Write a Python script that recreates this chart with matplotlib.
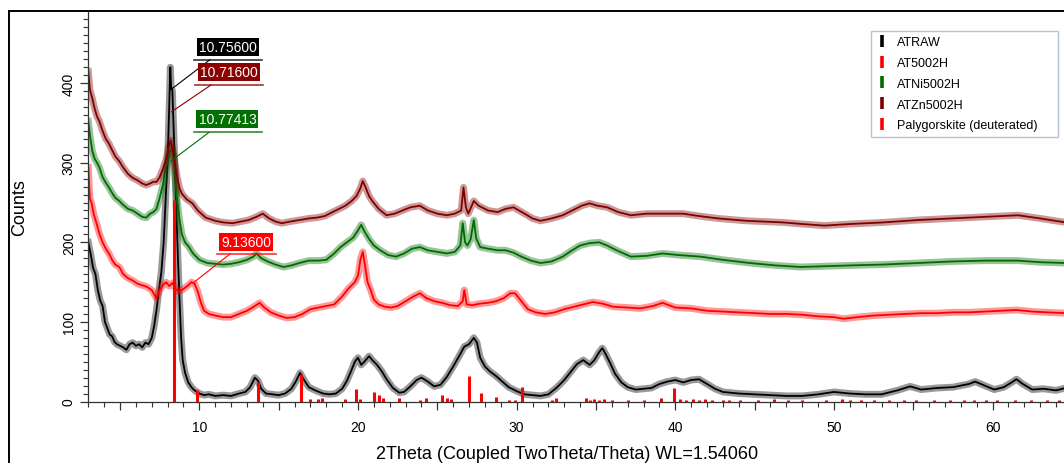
import numpy as np
import matplotlib.pyplot as plt
from matplotlib.lines import Line2D
from matplotlib.ticker import MultipleLocator, FuncFormatter

plt.rcParams['font.family'] = ['Liberation Sans', 'DejaVu Sans']

WL = 1.54060  # Cu K-alpha, Angstrom

# ATRAW
raw_tt = [3.0, 3.15, 3.3, 3.45, 3.6, 3.75, 3.9, 4.05, 4.2, 4.35, 4.5, 4.65, 4.8, 5.0, 5.2,
          5.4, 5.6, 5.8, 6.0, 6.2, 6.4, 6.6, 6.8, 7.0, 7.15, 7.3, 7.45, 7.6, 7.75, 7.9,
          8.0, 8.1, 8.17, 8.22, 8.3, 8.38, 8.45, 8.55, 8.65, 8.75, 8.85, 8.95, 9.1, 9.3,
          9.5, 9.7, 10.0, 10.3, 10.6, 11.0, 11.5, 12.0, 12.5, 12.9, 13.2, 13.5, 13.7, 13.9,
          14.2, 14.6, 15.0, 15.4, 15.8, 16.1, 16.35, 16.6, 16.9, 17.3, 17.8, 18.2, 18.6,
          19.0, 19.3, 19.6, 19.8, 20.0, 20.2, 20.4, 20.7, 20.9, 21.2, 21.5, 21.8, 22.2,
          22.6, 22.9, 23.3, 23.7, 24.0, 24.4, 24.8, 25.2, 25.6, 26.0, 26.4, 26.7, 27.0,
          27.3, 27.5, 27.7, 28.0, 28.3, 28.7, 29.1, 29.5, 30.0, 30.5, 31.0, 31.5, 32.0,
          32.5, 33.0, 33.4, 33.8, 34.2, 34.6, 34.9, 35.2, 35.4, 35.6, 35.9, 36.2, 36.6,
          37.0, 37.5, 38.0, 38.5, 39.0, 39.5, 40.0, 40.5, 41.0, 41.5, 42.0, 42.5, 43.0,
          44.0, 45.0, 46.0, 47.0, 48.0, 49.0, 50.0, 51.0, 52.0, 53.0, 54.0, 54.8, 55.5,
          56.5, 57.5, 58.5, 58.9, 59.5, 60.1, 60.7, 61.2, 61.5, 61.9, 62.5, 63.2, 64.0, 64.6]
raw_counts = [200, 185, 168, 160, 140, 127, 120, 100, 92, 84, 82, 75, 72, 70, 68,
              65, 72, 74, 70, 72, 68, 74, 72, 80, 95, 115, 140, 162, 200, 265,
              300, 370, 420, 395, 390, 340, 300, 240, 180, 128, 80, 52, 36, 24,
              18, 14, 10, 8, 9, 7, 8, 7, 10, 12, 18, 30, 26, 16,
              10, 9, 8, 10, 16, 26, 36, 27, 18, 14, 10, 9, 10,
              16, 26, 40, 50, 55, 46, 50, 57, 52, 46, 38, 28, 17,
              11, 12, 19, 27, 30, 25, 19, 21, 31, 44, 58, 69, 72,
              80, 74, 55, 44, 38, 32, 25, 18, 13, 9, 8, 7, 9,
              17, 27, 37, 47, 52, 46, 52, 62, 67, 60, 48, 35, 24,
              18, 15, 16, 17, 22, 25, 27, 24, 27, 28, 22, 16, 12,
              10, 9, 8, 7, 7, 9, 12, 10, 9, 9, 14, 19, 15,
              17, 18, 22, 25, 20, 15, 18, 24, 28, 22, 15, 16, 14, 17]

# AT5002H
at_tt = [3.0, 3.1, 3.2, 3.35, 3.5, 3.7, 3.9, 4.1, 4.3, 4.5, 4.7, 4.95, 5.2, 5.5, 5.8, 6.1,
         6.4, 6.7, 7.0, 7.28, 7.5, 7.7, 7.9, 8.1, 8.3, 8.5, 8.7, 8.9, 9.1, 9.3, 9.5, 9.7,
         9.9, 10.1, 10.3, 10.6, 11.0, 11.5, 12.0, 12.5, 13.0, 13.5, 13.8, 14.1, 14.5,
         15.0, 15.5, 16.0, 16.5, 17.0, 17.5, 18.0, 18.5, 19.0, 19.4, 19.8, 20.0, 20.15,
         20.3, 20.45, 20.6, 20.8, 21.0, 21.3, 21.7, 22.1, 22.5, 23.0, 23.5, 23.9, 24.3,
         24.8, 25.3, 25.8, 26.3, 26.6, 26.7, 26.85, 27.2, 27.7, 28.2, 28.7, 29.2, 29.6,
         29.9, 30.3, 30.7, 31.2, 31.8, 32.4, 33.0, 33.6, 34.2, 34.8, 35.4, 36.1, 37.0,
         37.8, 38.6, 39.2, 40.0, 41.0, 42.0, 43.0, 44.0, 45.0, 46.0, 47.0, 48.0, 49.0,
         50.0, 50.6, 51.5, 52.5, 53.5, 54.5, 55.5, 56.5, 57.5, 58.5, 59.5, 60.5, 61.5,
         62.5, 63.5, 64.6]
at_counts = [294, 255, 250, 235, 225, 211, 200, 192, 186, 178, 172, 169, 160, 155, 152, 148,
             146, 144, 140, 130, 140, 146, 150, 145, 149, 142, 138, 140, 143, 146, 150, 148,
             138, 124, 114, 110, 108, 106, 106, 110, 114, 120, 124, 118, 112,
             108, 105, 106, 110, 116, 118, 120, 122, 132, 142, 150, 158, 178,
             188, 170, 150, 140, 128, 122, 119, 118, 120, 126, 132, 136, 130,
             126, 124, 121, 120, 126, 140, 122, 121, 123, 124, 126, 130, 136,
             136, 126, 116, 112, 110, 112, 116, 119, 122, 125, 123, 119, 118,
             117, 120, 124, 118, 117, 114, 113, 112, 111, 110, 110, 109, 107,
             106, 104, 106, 108, 109, 110, 111, 111, 112, 112, 113, 114, 115,
             113, 112, 111]

# ATNi5002H
ni_tt = [3.0, 3.1, 3.25, 3.4, 3.55, 3.7, 3.9, 4.1, 4.3, 4.5, 4.7, 4.95, 5.2, 5.5, 5.8, 6.1,
         6.4, 6.65, 6.9, 7.1, 7.3, 7.5, 7.7, 7.85, 8.0, 8.15, 8.3, 8.4, 8.5, 8.6, 8.75,
         8.9, 9.1, 9.35, 9.6, 10.0, 10.5, 11.0, 11.5, 12.0, 12.5, 13.0, 13.4, 13.6, 13.9,
         14.3, 14.8, 15.3, 15.8, 16.3, 16.9, 17.5, 18.0, 18.5, 18.9, 19.3, 19.7, 20.0,
         20.2, 20.4, 20.7, 21.0, 21.4, 21.9, 22.4, 22.9, 23.4, 23.9, 24.4, 25.0, 25.6,
         26.1, 26.45, 26.6, 26.75, 26.9, 27.1, 27.3, 27.45, 27.7, 28.2, 28.8, 29.3, 29.8,
         30.3, 30.9, 31.5, 32.2, 32.9, 33.5, 34.0, 34.6, 35.2, 35.7, 36.3, 37.2, 38.2,
         39.2, 40.2, 41.6, 43.0, 44.7, 46.3, 47.9, 49.5, 51.1, 53.0, 55.3, 57.5, 59.5,
         61.6, 63.0, 64.6]
ni_counts = [352, 335, 315, 305, 300, 294, 282, 275, 269, 262, 256, 252, 247, 242, 240, 236,
             232, 231, 236, 238, 242, 256, 272, 290, 302, 315, 318, 300, 275, 252, 228,
             210, 200, 194, 186, 178, 174, 173, 172, 173, 175, 178, 182, 186, 180,
             176, 172, 169, 171, 174, 177, 177, 178, 186, 194, 200, 206, 215,
             222, 214, 204, 196, 190, 184, 182, 186, 192, 194, 190, 188, 186,
             188, 196, 224, 200, 196, 204, 228, 205, 194, 192, 190, 190, 187,
             182, 177, 174, 176, 182, 190, 196, 199, 200, 196, 190, 182, 183,
             186, 184, 182, 178, 174, 171, 169, 170, 171, 172, 174, 176, 177,
             177, 175, 174]

# ATZn5002H
zn_tt = [3.0, 3.1, 3.25, 3.4, 3.55, 3.7, 3.9, 4.1, 4.3, 4.5, 4.7, 4.95, 5.2, 5.5, 5.8, 6.1,
         6.4, 6.65, 6.9, 7.1, 7.3, 7.5, 7.7, 7.9, 8.05, 8.2, 8.3, 8.45, 8.6, 8.75, 8.9,
         9.2, 9.56, 9.9, 10.4, 11.0, 11.5, 12.1, 12.6, 13.1, 13.6, 14.0, 14.4, 14.8,
         15.2, 15.7, 16.3, 16.9, 17.4, 17.9, 18.4, 18.8, 19.2, 19.6, 19.9, 20.15, 20.3,
         20.5, 20.7, 20.9, 21.3, 21.8, 22.3, 22.8, 23.3, 23.9, 24.4, 25.0, 25.6, 26.1,
         26.5, 26.65, 26.8, 26.95, 27.3, 27.6, 28.2, 28.8, 29.3, 29.8, 30.5, 31.0, 31.5,
         32.2, 32.9, 33.5, 34.1, 34.6, 35.1, 35.7, 36.4, 37.2, 38.2, 39.2, 40.5, 41.5,
         42.7, 44.5, 46.8, 48.0, 49.4, 51.0, 53.1, 55.3, 57.4, 59.5, 61.6, 63.0, 64.6]
zn_counts = [415, 392, 381, 368, 358, 352, 340, 330, 324, 316, 308, 302, 294, 286, 281, 278,
             274, 272, 274, 276, 276, 282, 292, 304, 318, 328, 318, 300, 282, 268, 261,
             254, 249, 240, 231, 227, 225, 224, 226, 228, 232, 236, 230, 226,
             224, 226, 228, 230, 231, 233, 238, 242, 246, 252, 258, 268, 277,
             268, 258, 252, 242, 234, 236, 240, 244, 246, 240, 236, 234, 236,
             240, 269, 244, 236, 252, 246, 240, 238, 242, 244, 236, 230, 227,
             230, 234, 240, 246, 249, 246, 244, 238, 234, 236, 236, 236, 233,
             230, 227, 225, 223, 221, 223, 225, 228, 230, 232, 234, 230, 225]

# Palygorskite (deuterated) reference lines
pal_tt = [8.42, 9.87, 13.68, 16.38, 16.96, 17.45, 17.7, 19.16, 19.85, 20.1, 21.0, 21.3,
          21.6, 22.6, 23.9, 24.3, 25.3, 25.6, 25.85, 27.0, 27.75, 28.7, 29.5, 29.9, 30.35,
          32.2, 32.5, 34.4, 34.6, 34.9, 35.2, 35.5, 36.0, 37.0, 38.0, 39.1, 39.9, 40.3,
          40.7, 41.1, 41.5, 41.9, 42.3, 43.0, 43.4, 44.1, 45.2, 46.2, 47.1, 48.0, 49.5,
          50.5, 51.0, 51.7, 52.5, 53.5, 54.4, 55.2, 56.3, 57.3, 58.2, 58.8, 59.6, 60.3,
          61.4, 62.4, 63.4, 64.2]
pal_int = [253, 15, 25, 34, 3, 3, 4, 3, 16, 3, 12, 8,
           5, 5, 2, 5, 8, 4, 3, 32, 11, 6, 2, 2, 18,
           2, 5, 5, 2, 3, 2, 3, 2, 2, 2, 5, 17, 3,
           2, 3, 2, 3, 2, 2, 2, 2, 2, 3, 2, 2, 2,
           3, 2, 2, 2, 2, 2, 2, 2, 2, 2, 2, 2, 2,
           2, 2, 2, 2]

# labelled d-spacings and the counts where their leader lines end
peak_d = [10.75600, 10.71600, 10.77413, 9.13600]
peak_counts = [392, 364, 302, 150]


def two_theta(d):
    return 2 * np.degrees(np.arcsin(WL / (2 * d)))


W, H = 1064, 464
fig = plt.figure(figsize=(W / 100, H / 100), dpi=100)
ax = fig.add_axes([88.3 / W, 61.5 / H, (W - 88.3) / W, 389.2 / H])

series = [
    (raw_tt, raw_counts, '#000000', 'ATRAW'),
    (at_tt, at_counts, '#ff0000', 'AT5002H'),
    (ni_tt, ni_counts, '#006b00', 'ATNi5002H'),
    (zn_tt, zn_counts, '#800000', 'ATZn5002H'),
]
for tt, cnt, col, name in series:
    # wide faint stroke under the trace for the counting noise band
    ax.plot(tt, cnt, color=col, lw=5, alpha=0.4, solid_joinstyle='round')
    ax.plot(tt, cnt, color=col, lw=1.3)

ax.vlines(pal_tt, 0, pal_int, color='#ff0000', lw=2.2, zorder=4)

# d-spacing labels
labels = [
    # colour, box centre, underline y, underline x-range, leader start x
    ('#000000', (11.80, 445.4), 429.4, (9.67, 13.95), 10.67),
    ('#8b0000', (11.87, 413.6), 397.6, (9.73, 14.01), 10.73),
    ('#007000', (11.77, 354.9), 338.2, (9.67, 13.95), 10.61),
    ('#ff0000', (12.96, 200.4), 185.3, (11.11, 14.83), 11.93),
]
for (col, (tx, ty), uy, (ux0, ux1), lx), d, yc in zip(labels, peak_d, peak_counts):
    ax.text(tx, ty, f'{d:.5f}', color='white', fontsize=10, ha='center', va='center',
            bbox=dict(boxstyle='square,pad=0.15', fc=col, ec='none'), zorder=6)
    ax.plot([ux0, ux1], [uy, uy], color=col, lw=1.2, alpha=0.8, zorder=6)
    ax.plot([lx, two_theta(d)], [uy, yc], color=col, lw=0.8, zorder=6)

ax.set_xlim(3, 64.5)
ax.set_ylim(0, 489)
for s in ['top', 'right']:
    ax.spines[s].set_visible(False)
for s in ['left', 'bottom']:
    ax.spines[s].set_color('#333333')
    ax.spines[s].set_linewidth(0.9)

ax.xaxis.set_major_locator(MultipleLocator(5))
ax.xaxis.set_minor_locator(MultipleLocator(1))
ax.xaxis.set_major_formatter(FuncFormatter(lambda v, p: f'{v:.0f}' if v % 10 == 0 else ''))
ax.yaxis.set_major_locator(MultipleLocator(100))
ax.yaxis.set_minor_locator(MultipleLocator(10))
ax.tick_params(axis='both', which='major', length=6, width=0.9, color='#333333',
               labelsize=10)
ax.tick_params(axis='both', which='minor', length=3.5, width=0.8, color='#333333')
ax.tick_params(axis='x', which='major', pad=7)
ax.tick_params(axis='y', which='major', pad=3)
for lab in ax.get_yticklabels():
    lab.set_rotation(90)
    lab.set_va('center')

fig.text(567 / W, 1 - 455 / H, '2Theta (Coupled TwoTheta/Theta) WL=1.54060',
         fontsize=13, ha='center', va='center')
fig.text(20 / W, 1 - 208 / H, 'Counts', fontsize=13, rotation=90,
         ha='center', va='center')

handles = [Line2D([], [], color=c, marker='|', ls='none', markersize=8, markeredgewidth=2.6)
           for c in ['#000000', '#ff0000', '#006b00', '#800000', '#ff0000']]
names = ['ATRAW', 'AT5002H', 'ATNi5002H', 'ATZn5002H', 'Palygorskite (deuterated)']
leg = ax.legend(handles, names, loc='upper left',
                bbox_to_anchor=(871 / W, 1 - 137 / H, 187 / W, 105.3 / H),
                bbox_transform=fig.transFigure, mode='expand', fontsize=9, frameon=True,
                fancybox=False, edgecolor='#a3b3c9', handlelength=0.8, handletextpad=0.8,
                labelspacing=0.7, borderpad=0.45, borderaxespad=0)
leg.get_frame().set_linewidth(1.0)

# outer frame
fig.add_artist(Line2D([9.3 / W, 9.3 / W], [0, 1 - 11.7 / H], color='black', lw=1.4,
                      transform=fig.transFigure))
fig.add_artist(Line2D([9.3 / W, 1], [1 - 11.7 / H, 1 - 11.7 / H], color='black', lw=1.4,
                      transform=fig.transFigure))

fig.savefig('out.png', dpi=100)
